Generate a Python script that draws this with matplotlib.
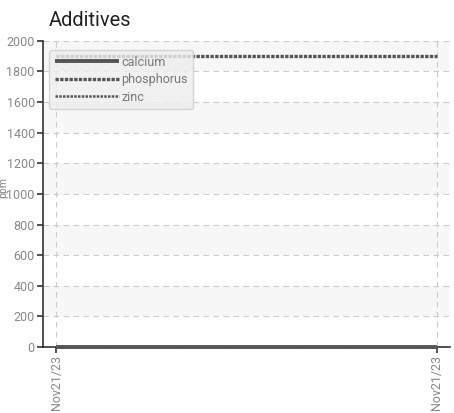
import matplotlib
matplotlib.use("Agg")
import matplotlib.pyplot as plt
import numpy as np

plt.rcParams['font.family'] = ['Roboto', 'DejaVu Sans']

dates = ["Nov21/23", "Nov21/23"]
calcium = [0, 0]
phosphorus = [1900, 1900]
zinc = [0, 0]
yticks = [0, 200, 400, 600, 800, 1000, 1200, 1400, 1600, 1800, 2000]

fig = plt.figure(figsize=(4.54, 4.13), dpi=100)
ax = fig.add_axes([0.095, 0.160, 0.896, 0.741])

x = np.arange(len(dates))
line_col = '#555555'

for i in range(len(yticks) - 1):
    if i % 2 == 1:
        ax.axhspan(yticks[i], yticks[i + 1], color='#f7f7f7', zorder=0, lw=0)

ax.plot(x, calcium, color=line_col, lw=2.8, solid_capstyle='butt', label='calcium', zorder=3, clip_on=False)
ax.plot(x, phosphorus, color=line_col, lw=2.4, linestyle=(0, (1, 0.4)), dash_capstyle='butt', label='phosphorus', zorder=3, clip_on=False)
ax.plot(x, zinc, color=line_col, lw=1.8, linestyle=(0, (1, 0.5)), dash_capstyle='butt', label='zinc', zorder=4, clip_on=False)

ax.set_ylim(0, 2000)
pad = 0.032
span = (len(x) - 1)
ax.set_xlim(-pad * span / (1 - 2 * pad), span + pad * span / (1 - 2 * pad))
ax.set_yticks(yticks)
ax.set_xticks(x)
ax.set_xticklabels(dates, rotation=90)

ax.grid(True, color='#cccccc', linestyle=(0, (5, 4)), lw=0.8)
ax.set_axisbelow(True)
for s in ['top', 'right']:
    ax.spines[s].set_visible(False)
for s in ['left', 'bottom']:
    ax.spines[s].set_color('#333333')
    ax.spines[s].set_linewidth(1.2)
ax.tick_params(axis='both', colors='#333333', labelcolor='#888888', labelsize=9, length=4, width=1.2, pad=2)

ax.set_ylabel('ppm', color='#888888', fontsize=7.5)
ax.yaxis.set_label_coords(-0.085, 0.52)
ax.set_title('Additives', loc='left', fontsize=14.5, color='#222222', x=0.015, pad=11)

leg = ax.legend(loc='upper left', bbox_to_anchor=(0.0, 0.99), handlelength=5.1, handletextpad=0.2,
                labelspacing=0.35, borderpad=0.45, fontsize=9, frameon=True, fancybox=True,
                shadow=False, framealpha=0.8)
leg.get_frame().set_facecolor('#eeeeee')
leg.get_frame().set_edgecolor('#cccccc')
for t in leg.get_texts():
    t.set_color('#777777')

fig.savefig('out.png', dpi=100)
